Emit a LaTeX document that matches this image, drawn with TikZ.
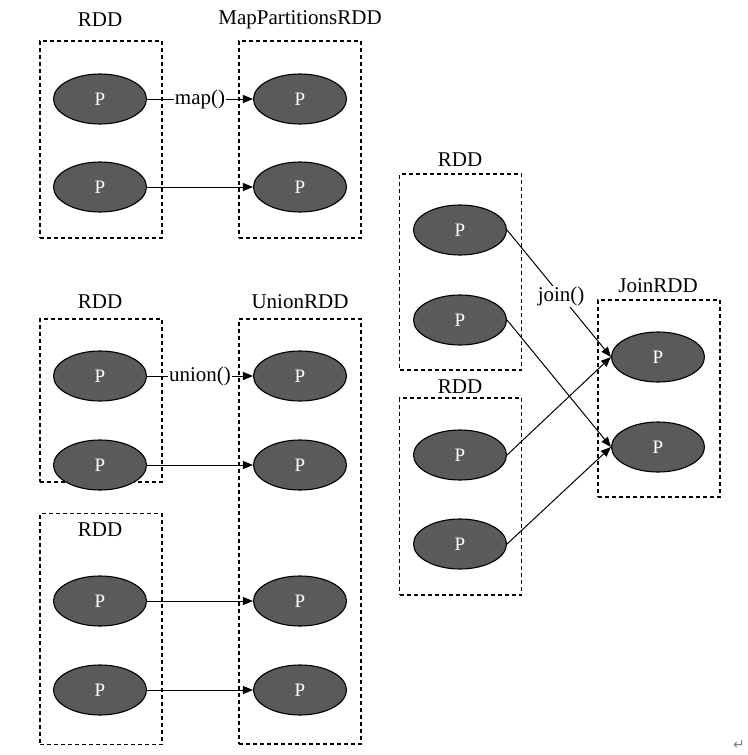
\documentclass[tikz,border=0pt]{standalone}
\usepackage{fontspec}
\setmainfont{Liberation Serif}
\newfontfamily\symfont{DejaVu Sans}
\usetikzlibrary{arrows.meta,shapes.geometric}
\definecolor{pfill}{HTML}{5A5A5A}
\begin{document}
\begin{tikzpicture}[x=1pt,y=-1pt,
  part/.style={ellipse,draw=black,line width=1.1pt,fill=pfill,minimum width=93pt,minimum height=50pt,inner sep=0pt,text=white,font=\fontsize{19}{19}\selectfont},
  rddbox/.style={draw=black,line width=1.1pt,dash pattern=on 4pt off 3pt,minimum width=122pt,inner sep=0pt},
  title/.style={font=\fontsize{21}{21}\selectfont,inner sep=1pt},
  flow/.style={line width=1pt,-{Triangle[length=10pt,width=8pt]}},
  oplabel/.style={fill=white,inner sep=1pt,font=\fontsize{21}{21}\selectfont}]
\useasboundingbox (0,0) rectangle (747,755);
% boxes
\node[rddbox,minimum height=197pt] (b1) at (101,139.5) {};
\node[rddbox,minimum height=197pt] (b2) at (300,139.5) {};
\node[rddbox,minimum height=163pt] (b3) at (101,400.5) {};
\node[rddbox,minimum height=425pt] (b4) at (300,531.5) {};
\node[rddbox,minimum height=231pt] (b5) at (101,629) {};
\node[rddbox,minimum height=196pt] (b6) at (460.5,272) {};
\node[rddbox,minimum height=197pt] (b7) at (460.5,496.5) {};
\node[rddbox,minimum height=197pt] (b8) at (659,398.5) {};
% titles
\node[title] (t1) at (100,20) {RDD};
\node[title] (t2) at (300,20) {MapPartitionsRDD};
\node[title] (t3) at (100,302) {RDD};
\node[title] (t4) at (300,302) {UnionRDD};
\node[title] (t5) at (100,530) {RDD};
\node[title] (t6) at (460,160) {RDD};
\node[title] (t7) at (460,387) {RDD};
\node[title] (t8) at (658,286) {JoinRDD};
% partitions
\node[part] (a1) at (100,99) {P};
\node[part] (a2) at (100,187) {P};
\node[part] (m1) at (300,99) {P};
\node[part] (m2) at (300,187) {P};
\node[part] (c1) at (100,376) {P};
\node[part] (c2) at (100,465) {P};
\node[part] (d1) at (100,601) {P};
\node[part] (d2) at (100,690) {P};
\node[part] (u1) at (300,376) {P};
\node[part] (u2) at (300,465) {P};
\node[part] (u3) at (300,601) {P};
\node[part] (u4) at (300,690) {P};
\node[part] (r1) at (460,230) {P};
\node[part] (r2) at (460,320) {P};
\node[part] (s1) at (460,455) {P};
\node[part] (s2) at (460,544) {P};
\node[part] (j1) at (658,357) {P};
\node[part] (j2) at (658,447) {P};
% connectors
\draw[flow] (a1.east) -- node[oplabel] (lmap) {map()} (m1.west);
\draw[flow] (a2.east) -- (m2.west);
\draw[flow] (c1.east) -- node[oplabel] (lunion) {union()} (u1.west);
\draw[flow] (c2.east) -- (u2.west);
\draw[flow] (d1.east) -- (u3.west);
\draw[flow] (d2.east) -- (u4.west);
\draw[flow] (r1.east) -- node[oplabel,pos=0.52] (ljoin) {join()} (j1.west);
\draw[flow] (r2.east) -- (j2.west);
\draw[flow] (s1.east) -- (j1.west);
\draw[flow] (s2.east) -- (j2.west);
\node[text=gray,font=\symfont\fontsize{14}{14}\selectfont] (ret) at (739,745) {↵};
\end{tikzpicture}
\end{document}
